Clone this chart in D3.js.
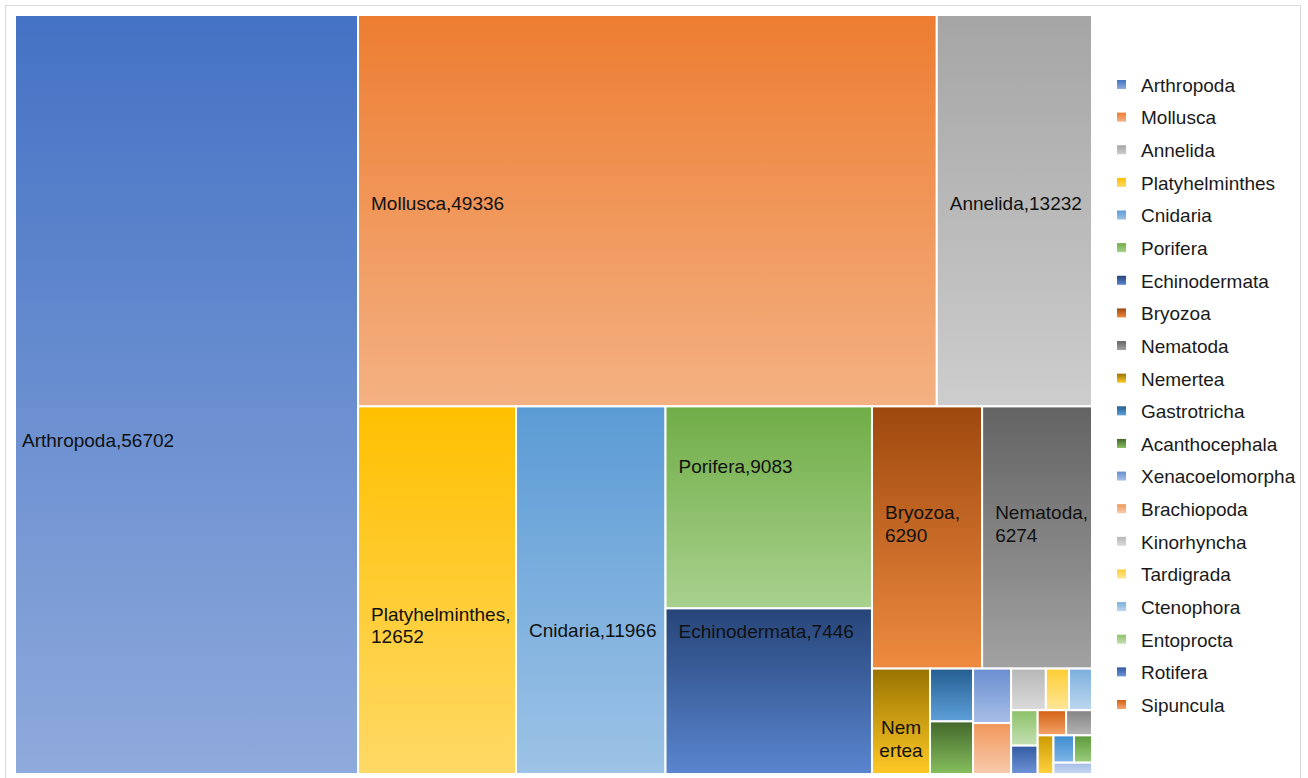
<!DOCTYPE html>
<html>
<head>
<meta charset="utf-8">
<script src="https://cdn.jsdelivr.net/npm/d3@7"></script>
<style>
  html, body { margin: 0; padding: 0; background: #fff; }
  svg { display: block; font-family: "Liberation Sans", Arial, sans-serif; }
</style>
</head>
<body>
<svg id="chart" width="1308" height="778"></svg>
<script>
// Described marine species per animal phylum
const phyla = [
  "Arthropoda", "Mollusca", "Annelida", "Platyhelminthes", "Cnidaria",
  "Porifera", "Echinodermata", "Bryozoa", "Nematoda", "Nemertea",
  "Gastrotricha", "Acanthocephala", "Xenacoelomorpha", "Brachiopoda", "Kinorhyncha",
  "Tardigrada", "Ctenophora", "Entoprocta", "Rotifera", "Sipuncula",
  "Chaetognatha", "Hemichordata", "Gnathostomulida", "Priapulida", "Phoronida"
];
const speciesCounts = [
  56702, 49336, 13232, 12652, 11966,
  9083, 7446, 6290, 6274, 1333,
  495, 493, 451, 422, 315,
  210, 208, 205, 164, 156,
  142, 133, 122, 107, 95
];

// Fill of each tile: vertical gradient, top colour to bottom colour
const topColors = [
  "#4472C4", "#ED7D31", "#A5A5A5", "#FFC000", "#5B9BD5",
  "#70AD47", "#264478", "#9E480E", "#636363", "#997300",
  "#255E91", "#43682B", "#698ED0", "#F1975A", "#B7B7B7",
  "#FFCD33", "#7CAFDD", "#8CC168", "#335AA1", "#D26012",
  "#848484", "#CC9A00", "#3E8BCE", "#5A9A3A", "#A4BCE8"
];
const bottomColors = [
  "#8FAADC", "#F4B183", "#CDCDCD", "#FFD966", "#9DC3E6",
  "#A9D18E", "#5A86CF", "#EF8B40", "#A2A2A2", "#FFC926",
  "#5EA0DA", "#86BF5E", "#A9BFE8", "#F8CBAD", "#DBDBDB",
  "#FFE699", "#BDD7EE", "#C5E0B4", "#6E93D8", "#F5A46C",
  "#B5B5B5", "#FFD23F", "#80B6E7", "#9DCD7D", "#C9D7F2"
];

// The legend box has room for twenty rows
const legendShown = 20;

// Where each data label sits inside its tile: left inset (px) and
// the first line's centre as a fraction of the tile height
const labelPlacement = {
  "Arthropoda":      { dx: 7,  fy: 0.56,  anchor: "start" },
  "Mollusca":        { dx: 13, fy: 0.48,  anchor: "start" },
  "Annelida":        { dx: 13, fy: 0.48,  anchor: "start" },
  "Platyhelminthes": { dx: 13, fy: 0.565, anchor: "start" },
  "Cnidaria":        { dx: 13, fy: 0.61,  anchor: "start" },
  "Porifera":        { dx: 13, fy: 0.295, anchor: "start" },
  "Echinodermata":   { dx: 13, fy: 0.137, anchor: "start" },
  "Bryozoa":         { dx: 13, fy: 0.405, anchor: "start" },
  "Nematoda":        { dx: 13, fy: 0.405, anchor: "start" },
  "Nemertea":        { dx: 0,  fy: 0.557, anchor: "middle" }
};

const FONT_SIZE = 19;
const LINE_H = 22.5;
const plot = { x: 15, y: 15, w: 1077, h: 759 };

const svg = d3.select("#chart");

// Chart frame
svg.append("rect")
  .attr("x", 5.5).attr("y", 5.5)
  .attr("width", 1295).attr("height", 800)
  .attr("fill", "#fff")
  .attr("stroke", "#D9D9D9").attr("stroke-width", 1);

// Squarified tiling that favours tiles taller than they are wide
function tallSquarify(targetAspect) {
  const score = a => Math.max(a / targetAspect, targetAspect / a);
  return function (parent, x0, y0, x1, y1) {
    const nodes = parent.children, n = nodes.length;
    let remaining = parent.value, i0 = 0;
    while (i0 < n) {
      const dx = x1 - x0, dy = y1 - y0;
      const across = dx < dy; // strip along the top, else a column at the left
      let sum = 0, best = Infinity, i1 = i0, minV = Infinity, maxV = 0;
      while (i1 < n) {
        const v = nodes[i1].value;
        const s = sum + v, mn = Math.min(minV, v), mx = Math.max(maxV, v);
        let aLo, aHi;
        if (across) {
          const t = dy * s / remaining;
          aLo = t / (dx * mx / s);
          aHi = t / (dx * mn / s);
        } else {
          const t = dx * s / remaining;
          aLo = (dy * mn / s) / t;
          aHi = (dy * mx / s) / t;
        }
        const worst = Math.max(score(aLo), score(aHi));
        if (worst > best) break;
        best = worst; sum = s; minV = mn; maxV = mx; i1++;
      }
      const row = { value: sum, children: nodes.slice(i0, i1) };
      if (across) {
        const y = i1 >= n ? y1 : y0 + dy * sum / remaining;
        d3.treemapDice(row, x0, y0, x1, y);
        y0 = y;
      } else {
        const x = i1 >= n ? x1 : x0 + dx * sum / remaining;
        d3.treemapSlice(row, x0, y0, x, y1);
        x0 = x;
      }
      remaining -= sum;
      i0 = i1;
    }
  };
}

const records = phyla.map((name, i) => ({ name, value: speciesCounts[i], i }));
const root = d3.hierarchy({ children: records }).sum(d => d.value || 0);
d3.treemap()
  .size([plot.w, plot.h])
  .tile(tallSquarify(1.3))(root);

// Gradients
const defs = svg.append("defs");
records.forEach(d => {
  const g = defs.append("linearGradient")
    .attr("id", "grad" + d.i)
    .attr("x1", 0).attr("y1", 0).attr("x2", 0).attr("y2", 1);
  g.append("stop").attr("offset", "0%").attr("stop-color", topColors[d.i]);
  g.append("stop").attr("offset", "100%").attr("stop-color", bottomColors[d.i]);
});

const cells = svg.append("g")
  .attr("transform", `translate(${plot.x},${plot.y})`)
  .selectAll("g")
  .data(root.leaves())
  .join("g");

cells.append("rect")
  .attr("x", d => d.x0).attr("y", d => d.y0)
  .attr("width", d => d.x1 - d.x0).attr("height", d => d.y1 - d.y0)
  .attr("fill", d => `url(#grad${d.data.i})`)
  .attr("stroke", "#fff").attr("stroke-width", 2);

// Text measurement helper
const measurer = svg.append("text")
  .attr("font-size", FONT_SIZE).attr("visibility", "hidden");
function textWidth(s) {
  measurer.text(s);
  return measurer.node().getComputedTextLength();
}

function wrapLabel(name, value, avail) {
  const full = name + "," + value;
  if (textWidth(full) <= avail) return [full];
  if (textWidth(name + ",") <= avail) return [name + ",", String(value)];
  const lines = [];
  let cur = "";
  for (const ch of name) {
    if (cur && textWidth(cur + ch) > avail) { lines.push(cur); cur = ch; }
    else cur += ch;
  }
  if (cur) lines.push(cur);
  lines.push("," + value);
  return lines;
}

cells.filter(d => labelPlacement[d.data.name]).each(function (d) {
  const p = labelPlacement[d.data.name];
  const w = d.x1 - d.x0, h = d.y1 - d.y0;
  const lines = wrapLabel(d.data.name, d.data.value, w - 12);
  const x = p.anchor === "middle" ? (d.x0 + d.x1) / 2 : d.x0 + p.dx;
  const firstY = d.y0 + h * p.fy;
  const t = d3.select(this).append("text")
    .attr("font-size", FONT_SIZE)
    .attr("fill", "#111")
    .attr("text-anchor", p.anchor);
  lines.forEach((line, k) => {
    const cy = firstY + k * LINE_H;
    if (cy + 7 > d.y1) return; // lines that spill past the tile are not shown
    t.append("tspan").attr("x", x).attr("y", cy + 0.36 * FONT_SIZE).text(line);
  });
});

measurer.remove();

// Legend
const legendNames = phyla.slice(0, legendShown);
const ly = d3.scalePoint().domain(legendNames).range([85, 705]);
const legend = svg.append("g")
  .selectAll("g")
  .data(legendNames)
  .join("g")
  .attr("transform", d => `translate(0,${ly(d)})`);

legend.append("rect")
  .attr("x", 1117).attr("y", -5)
  .attr("width", 9).attr("height", 9)
  .attr("fill", (d, i) => `url(#grad${i})`);

legend.append("text")
  .attr("x", 1141).attr("y", 0.36 * FONT_SIZE)
  .attr("font-size", FONT_SIZE)
  .attr("fill", "#1a1a1a")
  .text(d => d);
</script>
</body>
</html>
